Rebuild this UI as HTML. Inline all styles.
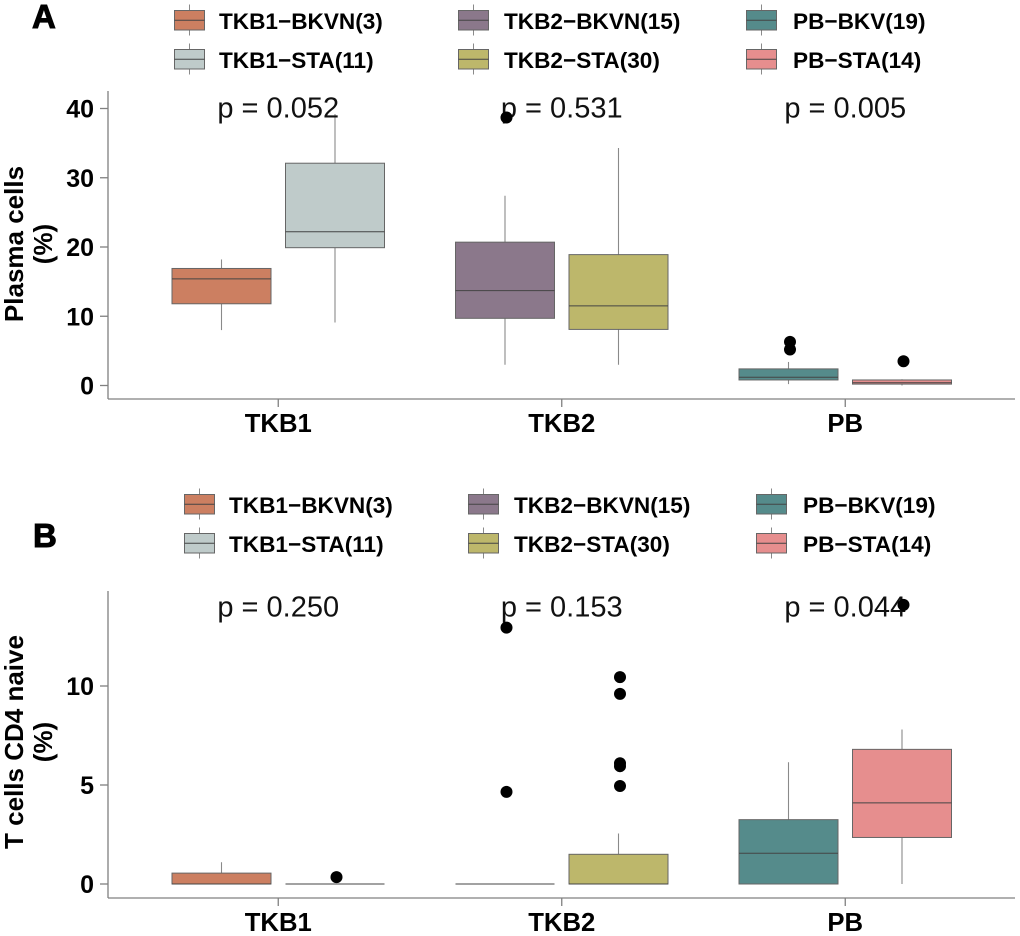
<!DOCTYPE html>
<html>
<head>
<meta charset="utf-8">
<style>
html,body{margin:0;padding:0;background:#fff;}
svg{display:block;}
text{font-family:"Liberation Sans",Arial,sans-serif;fill:#000;}
.lg{font-size:22.6px;font-weight:bold;}
.yt{font-size:25px;font-weight:bold;text-anchor:end;}
.xt{font-size:25.7px;font-weight:bold;text-anchor:middle;}
.at{font-size:26px;font-weight:bold;text-anchor:middle;}
.pv{font-size:29px;text-anchor:middle;fill:#111;}
.pl{font-size:33px;font-weight:bold;stroke:#000;stroke-width:1;}
.ax{stroke:#808080;stroke-width:1.3;fill:none;}
</style>
</head>
<body>
<svg id="fig" width="1020" height="936" viewBox="0 0 1020 936" xmlns="http://www.w3.org/2000/svg">
  <text class="pl" x="32" y="28">A</text>
  <text class="pl" x="33" y="547">B</text>

  <g id="legendA">
    <text class="lg" x="219" y="29">TKB1−BKVN(3)</text>
    <text class="lg" x="219" y="68">TKB1−STA(11)</text>
    <text class="lg" x="504" y="29">TKB2−BKVN(15)</text>
    <text class="lg" x="504" y="68">TKB2−STA(30)</text>
    <text class="lg" x="793" y="29">PB−BKV(19)</text>
    <text class="lg" x="793" y="68">PB−STA(14)</text>
  </g>
  <g id="legendB">
    <text class="lg" x="229" y="513">TKB1−BKVN(3)</text>
    <text class="lg" x="229" y="552">TKB1−STA(11)</text>
    <text class="lg" x="514" y="513">TKB2−BKVN(15)</text>
    <text class="lg" x="514" y="552">TKB2−STA(30)</text>
    <text class="lg" x="803" y="513">PB−BKV(19)</text>
    <text class="lg" x="803" y="552">PB−STA(14)</text>
  </g>

  <g transform="translate(23,244) rotate(-90)">
    <text class="at" x="0" y="0">Plasma cells</text>
    <text class="at" x="0" y="29">(%)</text>
  </g>
  <g transform="translate(23,742) rotate(-90)">
    <text class="at" x="0" y="0">T cells CD4 naive</text>
    <text class="at" x="0" y="29">(%)</text>
  </g>

  <g id="panelA"></g>
  <g id="panelB"></g>
</svg>
<script>
var groupNames = ["TKB1", "TKB2", "PB"];
var boxColors = ["#CC7F61", "#BFCBCA", "#8B788B", "#BDB76B", "#558B8B", "#E68E8E"];

var aTicks = [0, 10, 20, 30, 40];
var aPValues = ["p = 0.052", "p = 0.531", "p = 0.005"];
var aLow = [8, 9.1, 3, 3, 0.2, 0];
var aQ1 = [11.8, 19.9, 9.7, 8.1, 0.8, 0.2];
var aMedian = [15.4, 22.2, 13.7, 11.5, 1.2, 0.4];
var aQ3 = [16.9, 32.1, 20.7, 18.9, 2.4, 0.8];
var aHigh = [18.2, 39.2, 27.4, 34.3, 3.4, 0.9];
var aOutliers = [[], [], [38.7], [], [6.3, 5.2], [3.5]];

var bTicks = [0, 5, 10];
var bPValues = ["p = 0.250", "p = 0.153", "p = 0.044"];
var bLow = [0, 0, 0, 0, 0, 0];
var bQ1 = [0, 0, 0, 0, 0, 2.35];
var bMedian = [0, 0, 0, 0, 1.55, 4.1];
var bQ3 = [0.55, 0, 0, 1.5, 3.25, 6.8];
var bHigh = [1.1, 0, 0, 2.55, 6.15, 7.8];
var bOutliers = [[], [0.35], [4.65, 12.95], [4.95, 5.95, 6.1, 9.6, 10.45], [], [14.1]];

var NS = "http://www.w3.org/2000/svg";
function make(parent, tag, attrs, txt) {
  var el = document.createElementNS(NS, tag);
  for (var k in attrs) el.setAttribute(k, attrs[k]);
  if (txt !== undefined) el.textContent = txt;
  parent.appendChild(el);
  return el;
}
function xBox(i) { return 221.5 + Math.floor(i / 2) * 283.5 + (i % 2) * 113.5; }
function xGroup(g) { return 278.25 + g * 283.5; }

function drawPanel(root, cfg) {
  function y(v) { return cfg.y0 - v * cfg.scale; }
  var line;
  line = make(root, "line", {class: "ax", x1: 108, x2: 108, y1: cfg.top, y2: cfg.bottom});
  
  
  line = make(root, "line", {class: "ax", x1: 108, x2: 1015, y1: cfg.bottom, y2: cfg.bottom});
  
  

  cfg.ticks.forEach(function (t) {
    var tick = make(root, "line", {class: "ax", x1: 100, x2: 108, y1: y(t), y2: y(t)});
    
    
    var lab = make(root, "text", {class: "yt", x: 94, y: y(t) + 9}, String(t));
    
    
  });

  groupNames.forEach(function (name, g) {
    var tick = make(root, "line", {class: "ax", x1: xGroup(g), x2: xGroup(g), y1: cfg.bottom, y2: cfg.bottom + 8});
    
    
    var lab = make(root, "text", {class: "xt", x: xGroup(g), y: cfg.bottom + 33}, name);
    
    
  });

  cfg.low.forEach(function (_, i) {
    var cx = xBox(i);
    var whisker = make(root, "line", {x1: cx, x2: cx, y1: y(cfg.high[i]), y2: y(cfg.low[i]), stroke: "#8a8a8a", "stroke-width": 1.1});
    
    
    var box = make(root, "rect", {x: cx - 49.5, y: y(cfg.q3[i]), width: 99, height: Math.max(0, y(cfg.q1[i]) - y(cfg.q3[i])), fill: boxColors[i], stroke: "#666", "stroke-width": 1});
    
    
    var med = make(root, "line", {x1: cx - 49.5, x2: cx + 49.5, y1: y(cfg.median[i]), y2: y(cfg.median[i]), stroke: "#444", "stroke-width": 1});
    
    
  });

  cfg.pvals.forEach(function (p, g) {
    var lab = make(root, "text", {class: "pv", x: xGroup(g), y: cfg.pY}, p);
    
    
  });

  cfg.outliers.forEach(function (arr, i) {
    arr.forEach(function (v) {
      var dot = make(root, "circle", {cx: xBox(i) + 1.5, cy: y(v), r: 6, fill: "#000"});
      
      
    });
  });
}

function drawLegend(root, xs, tops) {
  xs.forEach(function (x, c) {
    tops.forEach(function (t, r) {
      var w = make(root, "line", {x1: x + 15, x2: x + 15, y1: t - 6, y2: t + 25, stroke: "#8a8a8a", "stroke-width": 1});
      
      
      var k = make(root, "rect", {x: x, y: t, width: 30, height: 19.5, fill: boxColors[c * 2 + r], stroke: "#666", "stroke-width": 1});
      
      
      var m = make(root, "line", {x1: x, x2: x + 30, y1: t + 9.75, y2: t + 9.75, stroke: "#444", "stroke-width": 1});
      
      
    });
  });
}

drawLegend(document.getElementById("legendA"), [174.5, 458.5, 746.5], [10.5, 49.5]);
drawLegend(document.getElementById("legendB"), [184.5, 468.5, 756.5], [494.5, 533.5]);

drawPanel(document.getElementById("panelA"), {
  y0: 385.5, scale: 6.925, top: 91, bottom: 399, pY: 117.5,
  ticks: aTicks, pvals: aPValues, low: aLow, q1: aQ1, median: aMedian, q3: aQ3, high: aHigh, outliers: aOutliers
});
drawPanel(document.getElementById("panelB"), {
  y0: 884, scale: 19.8, top: 591, bottom: 898, pY: 616.5,
  ticks: bTicks, pvals: bPValues, low: bLow, q1: bQ1, median: bMedian, q3: bQ3, high: bHigh, outliers: bOutliers
});
</script>
</body>
</html>
